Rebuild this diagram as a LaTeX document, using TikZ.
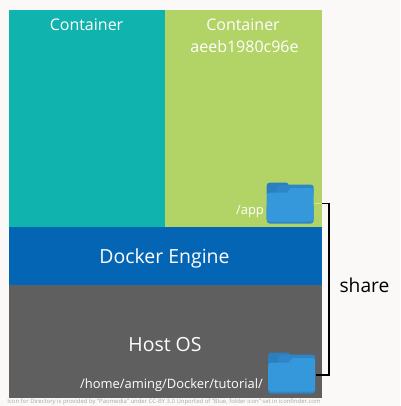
\documentclass[tikz,border=0pt]{standalone}
\usepackage{fontspec}
\setmainfont{Open Sans}
\definecolor{bgc}{HTML}{FAF9F8}
\definecolor{tealc}{HTML}{10B3AD}
\definecolor{greenc}{HTML}{B2D365}
\definecolor{bluec}{HTML}{0565B5}
\definecolor{grayc}{HTML}{5F5F5F}
\definecolor{foldA}{HTML}{2A7FBC}
\definecolor{foldB}{HTML}{3498DB}
\definecolor{foldC}{HTML}{2E86C8}
\definecolor{seam}{HTML}{D3E58C}
\begin{document}
\begin{tikzpicture}[x=0.75pt,y=-0.75pt,
  lab/.style={text=white,inner sep=0,font=\fontsize{12pt}{15pt}\selectfont,align=center},
  small/.style={text=white,inner sep=0,font=\fontsize{9.7pt}{12pt}\selectfont},
  big/.style={text=white,inner sep=0,font=\fontsize{14.6pt}{18pt}\selectfont},
  foldbox/.style={minimum width=35.25pt,minimum height=30.75pt,inner sep=0},
  link/.style={draw=black,line width=1.1pt}]
\useasboundingbox (0,0) rectangle (400,406);
\fill[bgc] (0,0) rectangle (400,406);
\fill[tealc] (8.5,10) rectangle (165,227);
\fill[greenc] (165,10) rectangle (321.5,227);
\fill[bluec] (8.5,226.5) rectangle (321.5,285);
\fill[grayc] (8.5,285) rectangle (321.5,398);
\node[lab] (c1) at (86.5,25) {Container};
\node[lab] (c2) at (243,25) {Container};
\node[lab] (c3) at (244.5,47) {aeeb1980c96e};
\node[big] (eng) at (164.5,258) {Docker Engine};
\node[big] (host) at (165,345) {Host OS};
\node[small] (app) at (250,211) {/app};
\node[small] (path) at (171.5,385.5) {/home/aming/Docker/tutorial/};
\node[text=black,inner sep=0,font=\fontsize{14.4pt}{17pt}\selectfont] (sh) at (364.5,285) {share};
\node[text=gray!70,inner sep=0,font=\fontsize{4.45pt}{6pt}\selectfont] (cr) at (164,402) {Icon for Directory is provided by "Paomedia" under CC-BY 3.0 Unported of "Blue, folder icon" set in iconfinder.com};
% folders
\node[foldbox] (f1) at (290.5,203.5) {};
\node[foldbox] (f2) at (292,373.5) {};
\coordinate (k1) at (329,203.5);
\coordinate (k2) at (329,375);
\coordinate (e1) at (321.5,203.5);
\draw[link] (f1.east |- k1) -- (k1) -- (k2) -- (f2.east |- k2);
\draw[seam,line width=1.1pt] (f1.east |- k1) -- (e1);
\foreach \f in {f1,f2}{
  \begin{scope}[shift={(\f.north west)}]
  \fill[foldA,rounded corners=2pt] (0,0) -- (22,0) -- (22,14) -- (0,14) -- cycle;
  \fill[foldC,rounded corners=2pt] (10,2) -- (47,2) -- (47,14) -- (10,14) -- cycle;
  \fill[foldC,rounded corners=2.5pt] (0,20) rectangle (47,41);
  \fill[foldB,rounded corners=2pt] (0,10) -- (22,10) -- (22,5.5) -- (47,5.5) -- (47,39) -- (0,39) -- cycle;
  \end{scope}
}
\end{tikzpicture}
\end{document}
